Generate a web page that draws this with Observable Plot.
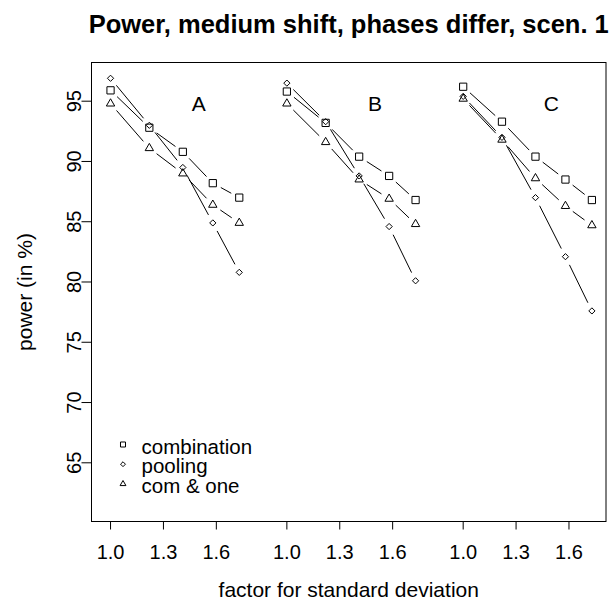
<!DOCTYPE html>
<html><head><meta charset="utf-8">
<script src="https://cdn.jsdelivr.net/npm/d3@7"></script>
<script src="https://cdn.jsdelivr.net/npm/@observablehq/plot@0.6"></script>
<style>html,body{margin:0;padding:0;background:#fff}</style>
</head><body><div id="chart"></div>
<script>
const title = "Power, medium shift, phases differ, scen. 1";
const xLabel = "factor for standard deviation";
const yLabel = "power (in %)";
const panels = ["A", "B", "C"];
const factors = [1.0, 1.22, 1.41, 1.58, 1.73];
const seriesNames = ["combination", "pooling", "com & one"];
// values per panel A, B, C
const combination = [
  [95.9, 92.8, 90.8, 88.2, 87.0],
  [95.8, 93.2, 90.4, 88.8, 86.8],
  [96.2, 93.3, 90.4, 88.5, 86.8]
];
const pooling = [
  [96.9, 93.0, 89.5, 84.9, 80.8],
  [96.5, 93.3, 88.8, 84.6, 80.1],
  [95.4, 92.0, 87.0, 82.1, 77.6]
];
const comOne = [
  [94.8, 91.1, 89.0, 86.4, 84.9],
  [94.8, 91.6, 88.5, 86.9, 84.8],
  [95.2, 91.8, 88.6, 86.3, 84.7]
];
const xTickValues = [1.0, 1.3, 1.6];
const xTickLabels = ["1.0", "1.3", "1.6"];
const yTicks = [65, 70, 75, 80, 85, 90, 95];

const seriesValues = [combination, pooling, comOne];
const symbols = ["square2", "diamond2", "triangle2"];
const radii = [4.6, 2.8, 4.0];
const legendRadii = [3.2, 2.2, 2.8];

const points = [];
const segments = [];
seriesValues.forEach((vals, s) => {
  vals.forEach((row, g) => {
    row.forEach((v, i) => {
      points.push({series: seriesNames[s], x: factors[i] + g, y: v});
      if (i < row.length - 1) {
        segments.push({series: seriesNames[s], x1: factors[i] + g, y1: v, x2: factors[i + 1] + g, y2: row[i + 1]});
      }
    });
  });
});

const xTicks = [];
const xTickText = new Map();
panels.forEach((p, g) => {
  xTickValues.forEach((v, j) => {
    const pos = v + g;
    xTicks.push(pos);
    xTickText.set(pos, xTickLabels[j]);
  });
});

const font = "'Liberation Sans', Arial, Helvetica, sans-serif";

const marks = [
  Plot.frame({stroke: "black", strokeWidth: 1}),
  Plot.axisX(xTicks, {tickSize: 8.5, tickPadding: 15, tickFormat: d => xTickText.get(d), fontSize: 20, stroke: "black", fill: "black"}),
  Plot.axisY(yTicks, {tickSize: 9.5, tickFormat: () => "", stroke: "black"}),
  Plot.text(yTicks, {y: d => d, text: d => String(d), frameAnchor: "left", dx: -11, rotate: -90, textAnchor: "middle", lineAnchor: "bottom", fontSize: 20, fill: "black"}),
  Plot.text([yLabel], {frameAnchor: "left", dx: -66, rotate: -90, textAnchor: "middle", lineAnchor: "middle", fontSize: 21, fill: "black"}),
  Plot.text([xLabel], {frameAnchor: "bottom", dy: 75, textAnchor: "middle", lineAnchor: "bottom", fontSize: 21, fill: "black"}),
  Plot.text([title], {frameAnchor: "top", dy: -30, textAnchor: "middle", lineAnchor: "bottom", fontSize: 25.5, fontWeight: "bold", fill: "black"}),
  Plot.text(panels, {x: (d, i) => 1.5 + i, y: () => 95, text: d => d, fontSize: 21, lineAnchor: "middle", dy: 3, fill: "black"}),
  Plot.arrow(segments, {x1: "x1", y1: "y1", x2: "x2", y2: "y2", headLength: 0, inset: 9.5, stroke: "black", strokeWidth: 1})
];

seriesNames.forEach((name, s) => {
  marks.push(Plot.dot(points.filter(d => d.series === name), {x: "x", y: "y", symbol: () => symbols[s], r: radii[s], stroke: "black", strokeWidth: 1, fill: "none"}));
  marks.push(Plot.dot([name], {frameAnchor: "bottom-left", dx: 31.5, dy: -77 + s * 19.7, symbol: () => symbols[s], r: legendRadii[s], stroke: "black", strokeWidth: 1, fill: "none"}));
  marks.push(Plot.text([name], {frameAnchor: "bottom-left", dx: 50, dy: -74.5 + s * 19.7, text: d => d, textAnchor: "start", lineAnchor: "middle", fontSize: 20.5, fill: "black"}));
});

const chart = Plot.plot({
  width: 611,
  height: 601,
  marginLeft: 91,
  marginRight: 5.5,
  marginTop: 62,
  marginBottom: 80,
  style: {fontFamily: font, background: "white", color: "black", overflow: "visible"},
  x: {domain: [0.892, 3.81]},
  y: {domain: [60.13, 98.21]},
  symbol: {type: "identity"},
  marks
});
document.getElementById("chart").appendChild(chart);
</script>
</body></html>
